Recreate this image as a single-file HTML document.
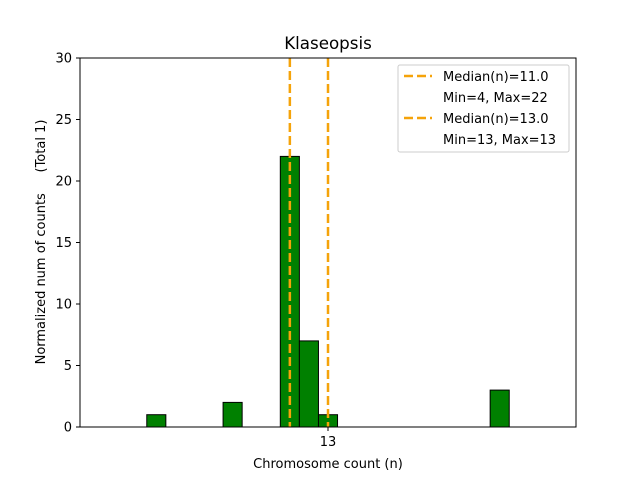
<!DOCTYPE html>
<html><head><meta charset="utf-8"><style>
body{margin:0;background:#fff;}
svg text{font-family:"DejaVu Sans","Liberation Sans",sans-serif;}
</style></head><body>
<svg width="640" height="480" viewBox="0 0 640 480">
<rect width="640" height="480" fill="#fff"/>
<g id="bars"></g>
<g id="lines"></g>
<rect x="80" y="58" width="496" height="369" fill="none" stroke="#000" stroke-width="1"/>
<g id="yticks"></g>
<g id="xticks"></g>
<text x="328" y="49" font-size="16.7" text-anchor="middle">Klaseopsis</text>
<text x="328" y="468" font-size="13" text-anchor="middle">Chromosome count (n)</text>
<text transform="translate(45,242) rotate(-90)" font-size="13" text-anchor="middle" xml:space="preserve">Normalized num of counts     (Total 1)</text>
<g>
<rect x="398" y="65" width="171" height="87" rx="2" fill="#fff" fill-opacity="0.8" stroke="#ccc"/>
<line x1="404" y1="76" x2="432" y2="76" stroke="#f5a30a" stroke-width="2.5" stroke-dasharray="9,4"/>
<text x="443" y="81" font-size="13">Median(n)=11.0</text>
<text x="443" y="102" font-size="13">Min=4, Max=22</text>
<line x1="404" y1="118" x2="432" y2="118" stroke="#f5a30a" stroke-width="2.5" stroke-dasharray="9,4"/>
<text x="443" y="123" font-size="13">Median(n)=13.0</text>
<text x="443" y="144" font-size="13">Min=13, Max=13</text>
</g>
</svg>
<script>
const categories=[4,8,11,12,13,22];
const counts=[1,2,22,7,1,3];
const medians=[11,13];
const yTicks=[0,5,10,15,20,25,30];
const xTicks=[13];
const NS="http://www.w3.org/2000/svg";
const X0=80,X1=576,Y0=427,Y1=58;
const xs=v=>X0+(v-0)/(26-0)*(X1-X0);
const ys=v=>Y0-(v/30)*(Y0-Y1);
function mk(t,a,p){const e=document.createElementNS(NS,t);for(const k in a)e.setAttribute(k,a[k]);p.appendChild(e);return e;}
const gb=document.getElementById('bars');
categories.forEach((c,i)=>{
 const r=mk('rect',{x:xs(c-0.5),y:ys(counts[i]),width:xs(c+0.5)-xs(c-0.5),height:ys(0)-ys(counts[i]),fill:'#008000',stroke:'#000','stroke-width':1},gb);
 
 
});
const gl=document.getElementById('lines');
medians.forEach((m,i)=>{
 const l=mk('line',{x1:xs(m),x2:xs(m),y1:Y1,y2:Y0,stroke:'#f5a30a','stroke-width':2.5,'stroke-dasharray':'9,4'},gl);
 
 
});
const gy=document.getElementById('yticks');
yTicks.forEach(v=>{
 const l=mk('line',{x1:X0-4,x2:X0,y1:ys(v),y2:ys(v),stroke:'#000'},gy);
 
 
 const t=mk('text',{x:X0-8,y:ys(v)+4.5,'font-size':13,'text-anchor':'end'},gy);
 t.textContent=v;
 
 
});
const gx=document.getElementById('xticks');
xTicks.forEach(v=>{
 const l=mk('line',{x1:xs(v),x2:xs(v),y1:Y0,y2:Y0+4,stroke:'#000'},gx);
 
 
 const t=mk('text',{x:xs(v),y:Y0+19,'font-size':13,'text-anchor':'middle'},gx);
 t.textContent=v;
 
 
});
</script>
</body></html>
